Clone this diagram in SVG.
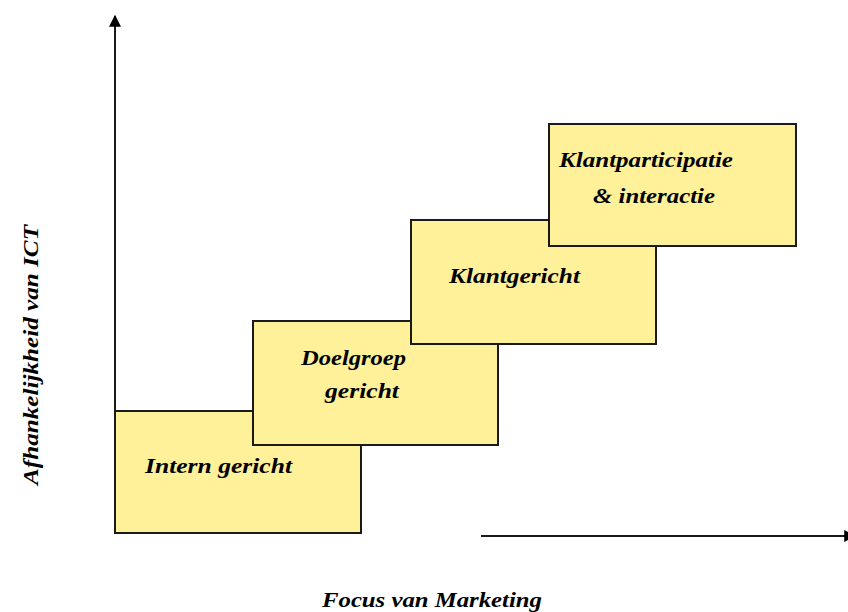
<svg xmlns="http://www.w3.org/2000/svg" width="848" height="612" viewBox="0 0 848 612">
  <style>
    .step { fill: #FFF199; stroke: #1a1a1a; stroke-width: 2; }
    .lbl { font-family: "Liberation Serif", "Times New Roman", serif; font-weight: bold; font-style: italic; font-size: 22px; fill: #000; }
    .axis { stroke: #1a1a1a; stroke-width: 2; fill: none; }
  </style>
  <defs>
    <marker id="arrow" viewBox="0 0 10 10" refX="9" refY="5" markerWidth="6" markerHeight="6" orient="auto" markerUnits="strokeWidth">
      <path d="M0,0 L10,5 L0,10 z" fill="#000"/>
    </marker>
  </defs>
  <rect width="848" height="612" fill="#fff"/>

  <!-- staircase of steps, drawn bottom-up so each overlaps the previous -->
  <g id="intern">
    <rect class="step" x="115" y="411" width="246" height="122"/>
    <text class="lbl" x="145" y="473" textLength="147" lengthAdjust="spacingAndGlyphs">Intern gericht</text>
  </g>
  <g id="doelgroep">
    <rect class="step" x="253" y="321" width="245" height="124"/>
    <text class="lbl" x="301" y="365" textLength="105" lengthAdjust="spacingAndGlyphs">Doelgroep</text>
    <text class="lbl" x="325" y="398" textLength="74" lengthAdjust="spacingAndGlyphs">gericht</text>
  </g>
  <g id="klantgericht">
    <rect class="step" x="411" y="220" width="245" height="124"/>
    <text class="lbl" x="449" y="283" textLength="131" lengthAdjust="spacingAndGlyphs">Klantgericht</text>
  </g>
  <g id="klantparticipatie">
    <rect class="step" x="549" y="124" width="247" height="122"/>
    <text class="lbl" x="559" y="167" textLength="174" lengthAdjust="spacingAndGlyphs">Klantparticipatie</text>
    <text class="lbl" x="593" y="203" textLength="122" lengthAdjust="spacingAndGlyphs">&amp; interactie</text>
  </g>

  <!-- axes; the horizontal arrowhead runs off the right edge -->
  <g id="connectors">
    <line class="axis" x1="115" y1="411" x2="115" y2="16" marker-end="url(#arrow)"/>
    <line class="axis" x1="481" y1="536" x2="855" y2="536" marker-end="url(#arrow)"/>
  </g>

  <!-- axis titles -->
  <g id="axis-labels">
    <text class="lbl" transform="translate(38,485) rotate(-90)" textLength="260" lengthAdjust="spacingAndGlyphs">Afhankelijkheid van ICT</text>
    <text class="lbl" x="322" y="607" textLength="220" lengthAdjust="spacingAndGlyphs">Focus van Marketing</text>
  </g>
</svg>
